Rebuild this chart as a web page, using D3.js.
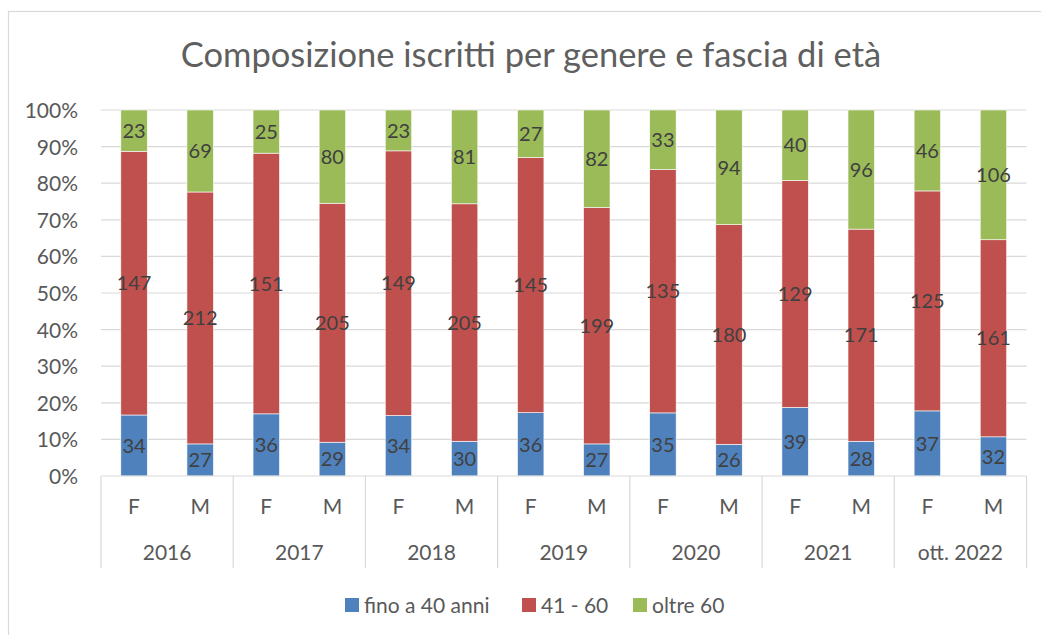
<!DOCTYPE html>
<html><head><meta charset="utf-8">
<script src="https://cdn.jsdelivr.net/npm/d3@7"></script>
<style>body{margin:0;background:#fff}svg{display:block}text{font-family:Lato,"Open Sans",sans-serif}</style>
</head><body><svg id="c" width="1041" height="635"></svg>
<script>
const years = ["2016","2017","2018","2019","2020","2021","ott. 2022"];
const genders = ["F","M"];
const seriesNames = ["fino a 40 anni","41 - 60","oltre 60"];
const colors = ["#4F81BD","#C0504D","#9BBB59"];
const upTo40 = [34,27,36,29,34,30,36,27,35,26,39,28,37,32];
const from41to60 = [147,212,151,205,149,205,145,199,135,180,129,171,125,161];
const over60 = [23,69,25,80,23,81,27,82,33,94,40,96,46,106];
const yTicks = [0,0.1,0.2,0.3,0.4,0.5,0.6,0.7,0.8,0.9,1];

const svg = d3.select("#c");
const W = 1041, H = 635;
const m = {left:101, right:1026.5, top:110, bottom:476};
const fs = 20, fsAx = 21;

svg.append("rect").attr("x",8.5).attr("y",11.5).attr("width",W).attr("height",H)
  .attr("fill","none").attr("stroke","#D9D9D9").attr("stroke-width",1.2);

svg.append("text").attr("x",531).attr("y",67).attr("text-anchor","middle")
  .attr("font-size",34.5).attr("fill","#5f5f5f").text("Composizione iscritti per genere e fascia di età");

const cats = [];
years.forEach(y=>genders.forEach(g=>cats.push(y+"|"+g)));
const rows = cats.map((c,i)=>({key:c, g:c.split("|")[1], y:c.split("|")[0], v:[upTo40[i],from41to60[i],over60[i]]}));

const x = d3.scaleBand().domain(cats).range([m.left,m.right]).paddingInner(0.6).paddingOuter(0.3);
const xg = d3.scaleBand().domain(years).range([m.left,m.right]);
const y = d3.scaleLinear().domain([0,1]).range([m.bottom,m.top]);

svg.append("g").selectAll("line").data(yTicks.slice(1)).join("line")
  .attr("x1",m.left).attr("x2",m.right).attr("y1",d=>y(d)).attr("y2",d=>y(d))
  .attr("stroke","#D9D9D9").attr("stroke-width",1.2);

const yAxis = d3.axisLeft(y).tickValues(yTicks).tickFormat(d3.format(".0%")).tickSize(0).tickPadding(23);
const ga = svg.append("g").attr("transform",`translate(${m.left},0)`).call(yAxis);
ga.select(".domain").remove();
ga.selectAll("text").attr("font-size",fsAx).attr("fill","#595959").attr("font-family","Lato,sans-serif").attr("dy","0.36em");

const stackData = rows.map(r=>{const t=d3.sum(r.v); let acc=0; return r.v.map((v,i)=>{const s={key:r.key,i,v,y0:acc/t,y1:(acc+v)/t}; acc+=v; return s;});}).flat();

const gb = svg.append("g");
gb.selectAll("rect").data(stackData).join("rect")
  .attr("x",d=>x(d.key)).attr("width",x.bandwidth())
  .attr("y",d=>y(d.y1)).attr("height",d=>y(d.y0)-y(d.y1))
  .attr("fill",d=>colors[d.i]).attr("stroke","#fff").attr("stroke-width",0.6);

gb.selectAll("text").data(stackData).join("text")
  .attr("x",d=>x(d.key)+x.bandwidth()/2).attr("y",d=>y((d.y0+d.y1)/2)).attr("dy","0.36em")
  .attr("text-anchor","middle").attr("font-size",fs).attr("fill","#404040").text(d=>d.v);

svg.append("line").attr("x1",m.left).attr("x2",m.right).attr("y1",m.bottom).attr("y2",m.bottom)
  .attr("stroke","#D9D9D9").attr("stroke-width",1.2);
const seps = years.map(yv=>xg(yv)).concat([m.right]);
svg.append("g").selectAll("line").data(seps).join("line")
  .attr("x1",d=>d).attr("x2",d=>d).attr("y1",m.bottom).attr("y2",568)
  .attr("stroke","#D9D9D9").attr("stroke-width",1.2);

svg.append("g").selectAll("text").data(rows).join("text")
  .attr("x",d=>x(d.key)+x.bandwidth()/2).attr("y",506).attr("dy","0.36em")
  .attr("text-anchor","middle").attr("font-size",fsAx).attr("fill","#595959").text(d=>d.g);
svg.append("g").selectAll("text").data(years).join("text")
  .attr("x",d=>xg(d)+xg.bandwidth()/2).attr("y",552).attr("dy","0.36em")
  .attr("text-anchor","middle").attr("font-size",fsAx).attr("fill","#595959").text(d=>d);

const legX = [345,522,633];
const lg = svg.append("g");
seriesNames.forEach((n,i)=>{
  lg.append("rect").attr("x",legX[i]).attr("y",598).attr("width",14).attr("height",14).attr("fill",colors[i]);
  lg.append("text").attr("x",legX[i]+19).attr("y",605).attr("dy","0.36em").attr("font-size",fsAx).attr("fill","#595959").text(n);
});
</script></body></html>
